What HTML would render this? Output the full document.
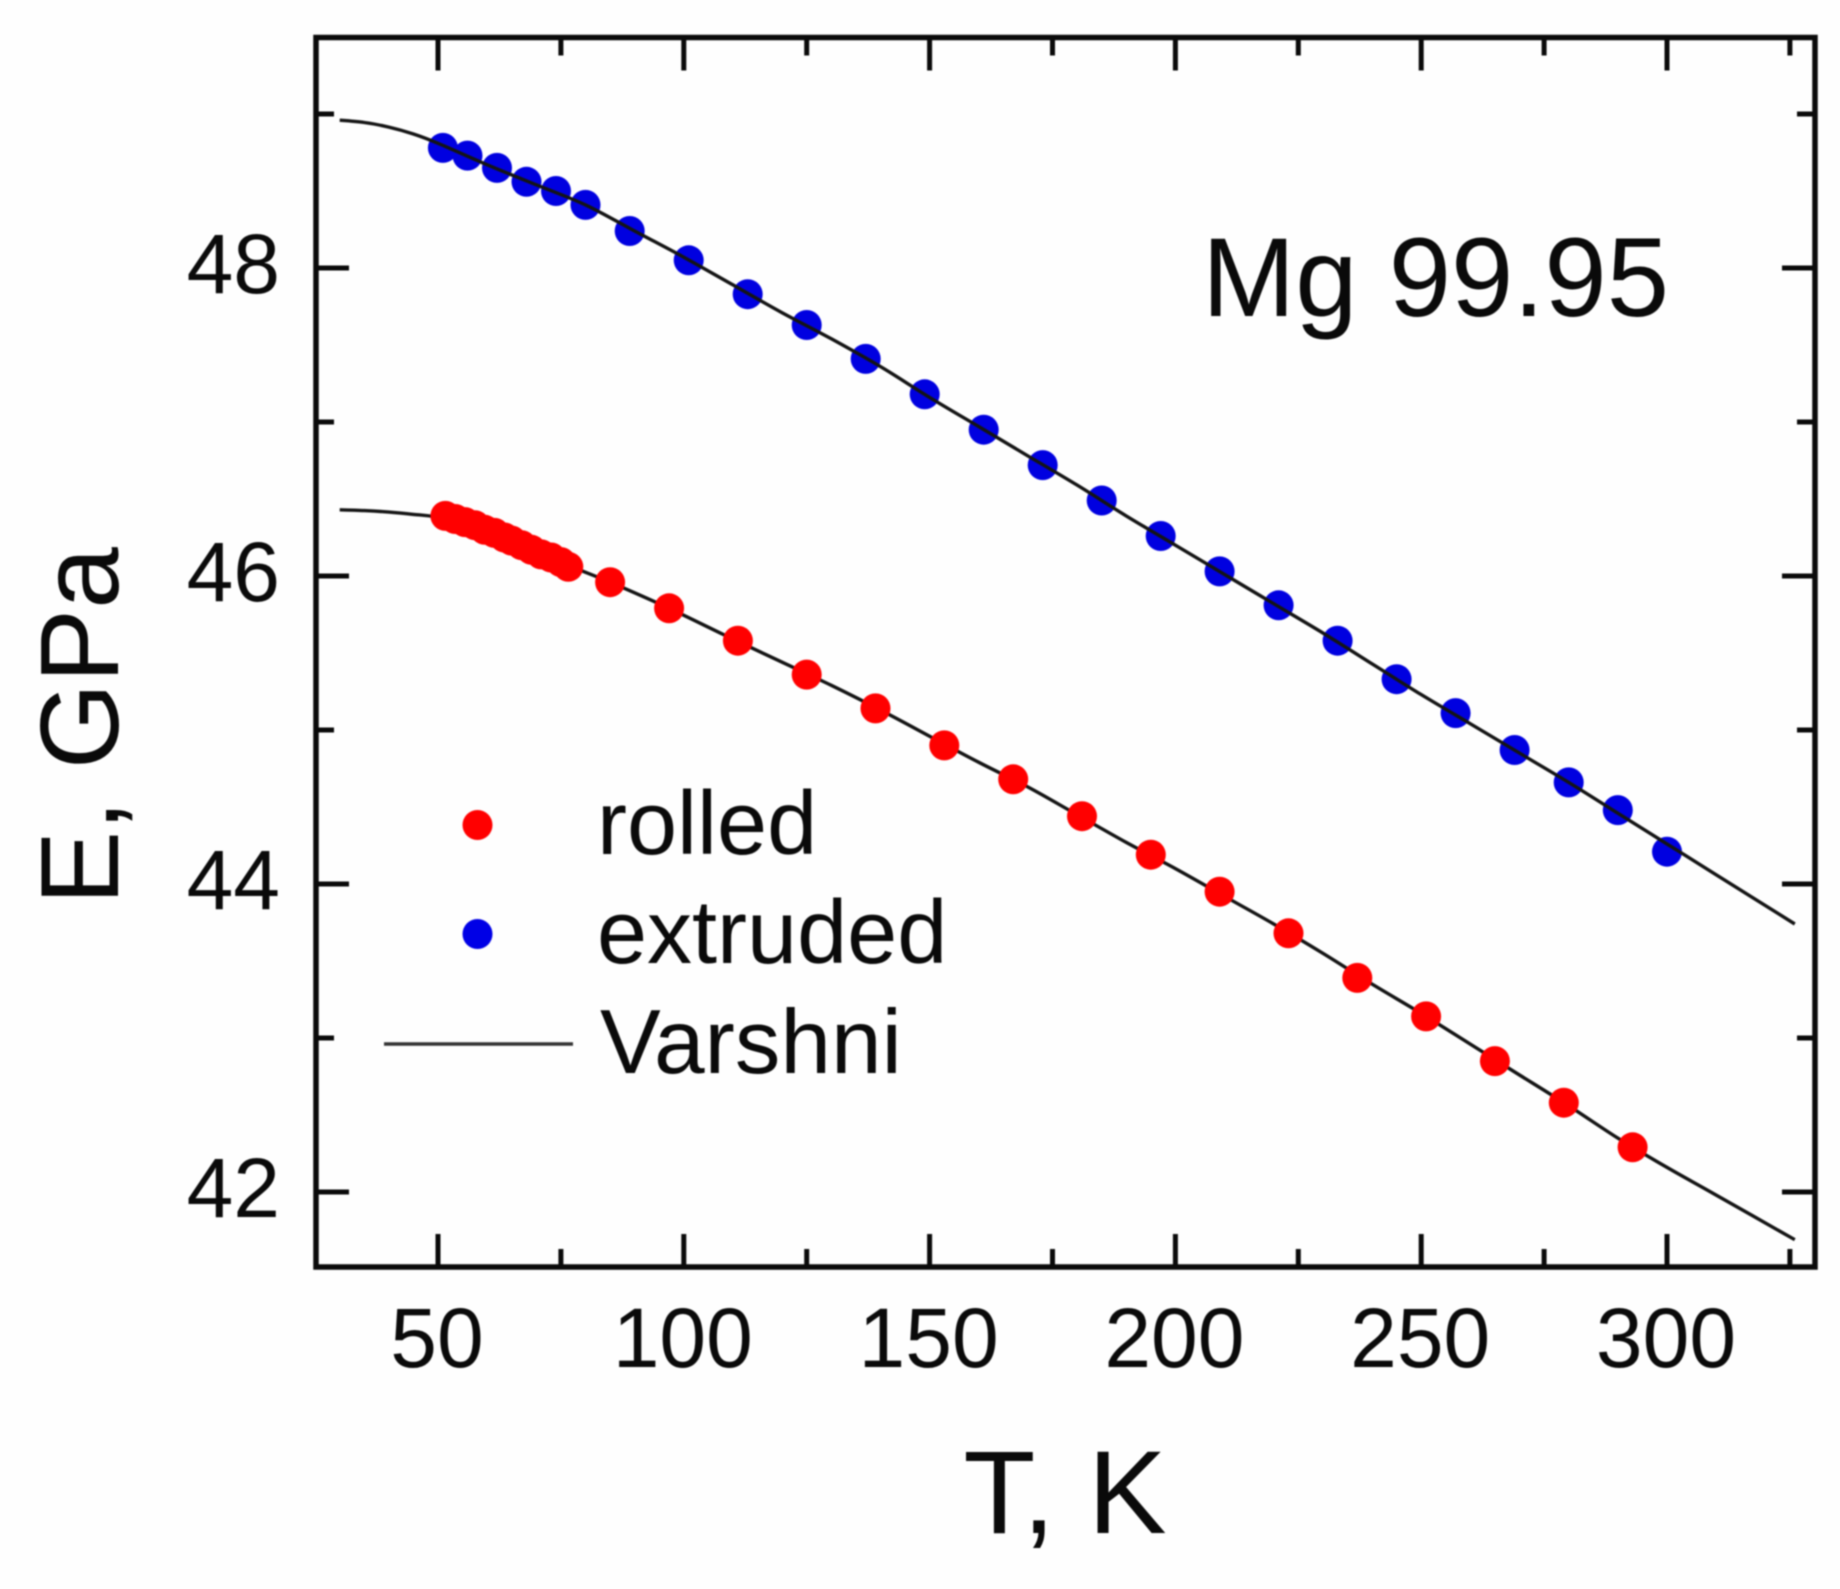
<!DOCTYPE html>
<html lang="en">
<head>
<meta charset="utf-8">
<title>Mg 99.95 Young's modulus vs temperature</title>
<style>
html,body{margin:0;padding:0;background:#fff;}
svg{display:block;font-family:"Liberation Sans",Arial,sans-serif;filter:blur(0.7px);}
text{fill:#0a0a0a;}
</style>
</head>
<body>
<svg id="chart" xmlns="http://www.w3.org/2000/svg" width="1840" height="1589" viewBox="0 0 1840 1589">
  <rect x="0" y="0" width="1840" height="1589" fill="#fefefe"/>
  <g id="marks"></g>
  <g id="axes"></g>
  <rect x="316" y="37.5" width="1499" height="1229.5" fill="none" stroke="#0a0a0a" stroke-width="5.5"/>
  <text x="1065" y="1533" font-size="118" text-anchor="middle">T, K</text>
  <text x="118" y="726" font-size="111" text-anchor="middle" transform="rotate(-90 118 726)">E, GPa</text>
  <text x="1202" y="316" font-size="112">Mg 99.95</text>
  <g>
    <circle cx="477.5" cy="825" r="15" fill="#ff0000"/>
    <text x="597" y="854" font-size="90">rolled</text>
    <circle cx="477.5" cy="934" r="15" fill="#0000e6"/>
    <text x="597" y="963" font-size="90">extruded</text>
    <line x1="384" y1="1044" x2="573" y2="1044" stroke="#333" stroke-width="3.5"/>
    <text x="600" y="1073" font-size="91">Varshni</text>
  </g>
</svg>
<script>
const xMajorTicks = [50, 100, 150, 200, 250, 300];
const xMinorTicks = [75, 125, 175, 225, 275, 325];
const yMajorTicks = [42, 44, 46, 48];
const yMinorTicks = [43, 45, 47, 49];

const extrudedT = [51, 56, 62, 68, 74, 80, 89, 101, 113, 125, 137, 149, 161, 173, 185, 197, 209, 221, 233, 245, 257, 269, 280, 290, 300];
const extrudedE = [48.78, 48.73, 48.65, 48.56, 48.50, 48.41, 48.24, 48.05, 47.83, 47.63, 47.41, 47.18, 46.95, 46.72, 46.49, 46.26, 46.03, 45.81, 45.58, 45.33, 45.11, 44.87, 44.66, 44.48, 44.21];

const rolledT = [51.5, 53.5, 55.5, 57.5, 59.5, 61.5, 63.5, 65, 67, 69, 71, 73, 75, 76.5, 85, 97, 111, 125, 139, 153, 167, 181, 195, 209, 223, 237, 251, 265, 279, 293];
const rolledE = [46.39, 46.37, 46.35, 46.33, 46.30, 46.28, 46.25, 46.23, 46.20, 46.17, 46.14, 46.12, 46.09, 46.06, 45.96, 45.79, 45.58, 45.36, 45.14, 44.90, 44.68, 44.44, 44.19, 43.95, 43.68, 43.39, 43.14, 42.85, 42.58, 42.29];

const fitExtrudedT = [30, 35, 40, 45, 50, 60, 70, 80, 90, 100, 110, 120, 130, 140, 150, 160, 170, 180, 190, 200, 210, 220, 230, 240, 250, 260, 270, 280, 290, 300, 310, 326];
const fitExtrudedE = [48.96, 48.945, 48.915, 48.87, 48.81, 48.67, 48.54, 48.41, 48.24, 48.07, 47.89, 47.71, 47.54, 47.36, 47.16, 46.97, 46.78, 46.59, 46.39, 46.20, 46.01, 45.82, 45.63, 45.43, 45.23, 45.04, 44.85, 44.66, 44.46, 44.26, 44.06, 43.74];

const fitRolledT = [30, 35, 40, 45, 50, 60, 70, 78, 85, 97, 110, 120, 130, 140, 150, 160, 170, 180, 190, 200, 210, 220, 230, 240, 250, 260, 270, 280, 290, 300, 310, 326];
const fitRolledE = [46.43, 46.425, 46.415, 46.40, 46.38, 46.29, 46.16, 46.05, 45.96, 45.79, 45.59, 45.44, 45.29, 45.13, 44.96, 44.79, 44.63, 44.45, 44.27, 44.10, 43.92, 43.74, 43.55, 43.35, 43.16, 42.96, 42.76, 42.56, 42.35, 42.16, 41.98, 41.69];

const SVG_NS = 'http://www.w3.org/2000/svg';
const FRAME = {left: 316, right: 1815, top: 37.5, bottom: 1267};

function xScale(t) { return 438 + (t - 50) * 4.916; }
function yScale(e) { return 268 + (48 - e) * 154; }

function make(tag, parent, attrs, content) {
  const el = document.createElementNS(SVG_NS, tag);
  for (const key in attrs) { el.setAttribute(key, attrs[key]); }
  if (content !== undefined) { el.textContent = content; }
  parent.appendChild(el);
  return el;
}

const axes = document.getElementById('axes');
const marks = document.getElementById('marks');

function drawVerticalTicks(values, length, kind) {
  values.forEach(function (v) {
    const x = xScale(v);
    const bottom = make('line', axes, {x1: x, x2: x, y1: FRAME.bottom, y2: FRAME.bottom - length, stroke: '#0a0a0a', 'stroke-width': 5});
    
    
    const top = make('line', axes, {x1: x, x2: x, y1: FRAME.top, y2: FRAME.top + length, stroke: '#0a0a0a', 'stroke-width': 5});
    
    
  });
}

function drawHorizontalTicks(values, length, kind) {
  values.forEach(function (v) {
    const y = yScale(v);
    const left = make('line', axes, {x1: FRAME.left, x2: FRAME.left + length, y1: y, y2: y, stroke: '#0a0a0a', 'stroke-width': 5});
    
    
    const right = make('line', axes, {x1: FRAME.right, x2: FRAME.right - length, y1: y, y2: y, stroke: '#0a0a0a', 'stroke-width': 5});
    
    
  });
}

drawVerticalTicks(xMajorTicks, 33, 'major');
drawVerticalTicks(xMinorTicks, 18, 'minor');
drawHorizontalTicks(yMajorTicks, 33, 'major');
drawHorizontalTicks(yMinorTicks, 18, 'minor');

xMajorTicks.forEach(function (v) {
  const label = make('text', axes, {x: xScale(v) - 1, y: 1367, 'font-size': 84, 'text-anchor': 'middle'}, String(v));
  
  
});

yMajorTicks.forEach(function (v) {
  const label = make('text', axes, {x: 280, y: yScale(v) + 25, 'font-size': 84, 'text-anchor': 'end'}, String(v));
  
  
});

function smoothPath(ts, es) {
  const px = ts.map(xScale);
  const py = es.map(yScale);
  let d = 'M' + px[0].toFixed(1) + ' ' + py[0].toFixed(1);
  for (let i = 0; i < px.length - 1; i++) {
    const a = Math.max(i - 1, 0);
    const b = Math.min(i + 2, px.length - 1);
    const c1x = px[i] + (px[i + 1] - px[a]) / 6;
    const c1y = py[i] + (py[i + 1] - py[a]) / 6;
    const c2x = px[i + 1] - (px[b] - px[i]) / 6;
    const c2y = py[i + 1] - (py[b] - py[i]) / 6;
    d += ' C' + c1x.toFixed(1) + ' ' + c1y.toFixed(1) + ' ' + c2x.toFixed(1) + ' ' + c2y.toFixed(1) + ' ' + px[i + 1].toFixed(1) + ' ' + py[i + 1].toFixed(1);
  }
  return d;
}

function drawFit(ts, es, name) {
  const line = make('path', marks, {d: smoothPath(ts, es), fill: 'none', stroke: '#141414', 'stroke-width': 3.4, 'stroke-linejoin': 'round'});
  
  
}

function drawPoints(ts, es, color, name) {
  ts.forEach(function (t, i) {
    const dot = make('circle', marks, {cx: xScale(t).toFixed(1), cy: yScale(es[i]).toFixed(1), r: 15, fill: color});
    
    
  });
}

drawFit(fitRolledT, fitRolledE, 'varshni-fit-rolled');
drawPoints(rolledT, rolledE, '#ff0000', 'rolled');
drawPoints(extrudedT, extrudedE, '#0000e0', 'extruded');
drawFit(fitExtrudedT, fitExtrudedE, 'varshni-fit-extruded');
</script>
</body>
</html>
